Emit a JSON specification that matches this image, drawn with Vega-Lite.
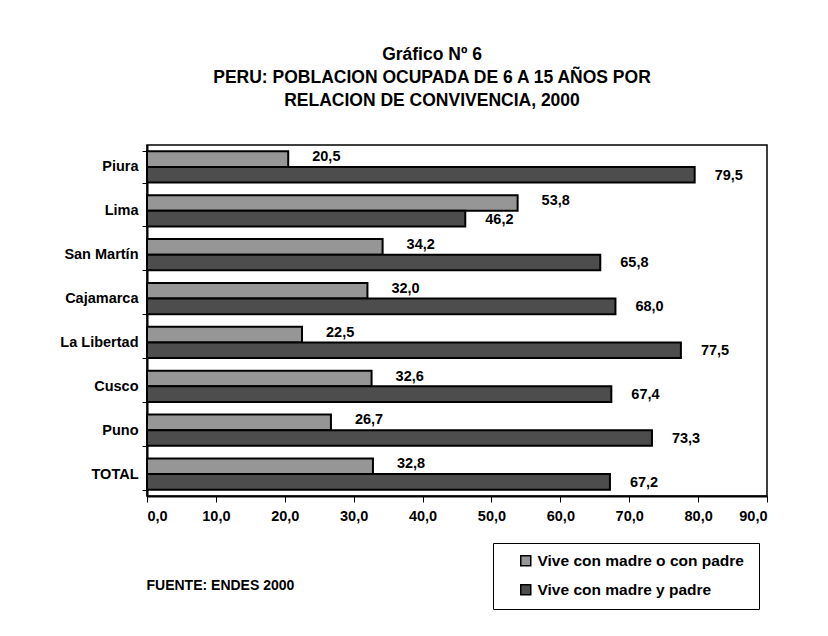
{
  "$schema": "https://vega.github.io/schema/vega-lite/v6.json",
  "width": 620,
  "height": 351,
  "autosize": {"type": "none"},
  "padding": {"left": 147, "top": 145, "right": 61, "bottom": 140},
  "background": "white",
  "title": {
    "text": ["Gráfico Nº 6", "PERU: POBLACION OCUPADA DE 6 A 15 AÑOS POR", "RELACION DE CONVIVENCIA, 2000"],
    "fontSize": 17.5,
    "fontWeight": "bold",
    "lineHeight": 23,
    "anchor": "middle",
    "frame": "group",
    "dx": -25,
    "offset": 28,
    "color": "black"
  },
  "data": {
    "values": [
      {"region": "Piura", "serie": "Vive con madre o con  padre", "value": 20.5},
      {"region": "Piura", "serie": "Vive con madre y padre", "value": 79.5},
      {"region": "Lima", "serie": "Vive con madre o con  padre", "value": 53.8},
      {"region": "Lima", "serie": "Vive con madre y padre", "value": 46.2},
      {"region": "San Martín", "serie": "Vive con madre o con  padre", "value": 34.2},
      {"region": "San Martín", "serie": "Vive con madre y padre", "value": 65.8},
      {"region": "Cajamarca", "serie": "Vive con madre o con  padre", "value": 32.0},
      {"region": "Cajamarca", "serie": "Vive con madre y padre", "value": 68.0},
      {"region": "La Libertad", "serie": "Vive con madre o con  padre", "value": 22.5},
      {"region": "La Libertad", "serie": "Vive con madre y padre", "value": 77.5},
      {"region": "Cusco", "serie": "Vive con madre o con  padre", "value": 32.6},
      {"region": "Cusco", "serie": "Vive con madre y padre", "value": 67.4},
      {"region": "Puno", "serie": "Vive con madre o con  padre", "value": 26.7},
      {"region": "Puno", "serie": "Vive con madre y padre", "value": 73.3},
      {"region": "TOTAL", "serie": "Vive con madre o con  padre", "value": 32.8},
      {"region": "TOTAL", "serie": "Vive con madre y padre", "value": 67.2}
    ]
  },
  "encoding": {
    "y": {
      "field": "region",
      "type": "nominal",
      "sort": ["Piura", "Lima", "San Martín", "Cajamarca", "La Libertad", "Cusco", "Puno", "TOTAL"],
      "scale": {"paddingInner": 0.29, "paddingOuter": 0.145},
      "axis": {
        "title": null,
        "domainColor": "black",
        "domainWidth": 2,
        "tickColor": "black",
        "tickSize": 5,
        "tickBand": "extent",
        "labelFontSize": 14.5,
        "labelFontWeight": "bold",
        "labelColor": "black",
        "labelPadding": 4
      }
    },
    "yOffset": {
      "field": "serie",
      "type": "nominal",
      "sort": ["Vive con madre o con  padre", "Vive con madre y padre"]
    },
    "x": {
      "field": "value",
      "type": "quantitative",
      "scale": {"domain": [0, 90], "nice": false},
      "axis": {
        "values": [0, 10, 20, 30, 40, 50, 60, 70, 80, 90],
        "format": ".1f",
        "grid": false,
        "domainColor": "black",
        "domainWidth": 2,
        "tickColor": "black",
        "tickSize": 6,
        "labelFontSize": 14.5,
        "labelFontWeight": "bold",
        "labelColor": "black",
        "labelPadding": 7,
        "title": "FUENTE: ENDES 2000",
        "titleAnchor": "start",
        "titleAlign": "left",
        "titleBaseline": "middle",
        "titleX": -1,
        "titleY": 89,
        "titleFontSize": 14,
        "titleFontWeight": "bold",
        "titleColor": "black"
      }
    }
  },
  "layer": [
    {
      "mark": {"type": "bar", "stroke": "black", "strokeWidth": 2},
      "encoding": {
        "color": {
          "field": "serie",
          "type": "nominal",
          "sort": ["Vive con madre o con  padre", "Vive con madre y padre"],
          "scale": {"range": ["#969696", "#4d4d4d"]},
          "legend": {
            "title": null,
            "orient": "none",
            "legendX": 346,
            "legendY": 398,
            "direction": "vertical",
            "strokeColor": "black",
            "fillColor": "white",
            "padding": 10,
            "symbolOffset": 15,
            "symbolType": "square",
            "symbolSize": 100,
            "symbolStrokeColor": "black",
            "symbolStrokeWidth": 1.5,
            "labelFontSize": 15.5,
            "labelFontWeight": "bold",
            "labelColor": "black",
            "labelLimit": 400,
            "labelOffset": 4,
            "rowPadding": 11
          }
        }
      }
    },
    {
      "transform": [{"filter": "datum.serie === 'Vive con madre o con  padre'"}],
      "mark": {"type": "text", "align": "left", "baseline": "middle", "dx": 24, "dy": -2, "fontSize": 14.5, "fontWeight": "bold", "color": "black"},
      "encoding": {"text": {"field": "value", "type": "quantitative", "format": ".1f"}}
    },
    {
      "transform": [{"filter": "datum.serie === 'Vive con madre y padre'"}],
      "mark": {"type": "text", "align": "left", "baseline": "middle", "dx": 20, "dy": 1, "fontSize": 14.5, "fontWeight": "bold", "color": "black"},
      "encoding": {"text": {"field": "value", "type": "quantitative", "format": ".1f"}}
    }
  ],
  "config": {
    "font": "Liberation Sans, Arial, sans-serif",
    "locale": {"number": {"decimal": ",", "thousands": ".", "grouping": [3], "currency": ["", ""]}},
    "view": {"stroke": "black", "strokeWidth": 1.5}
  }
}
